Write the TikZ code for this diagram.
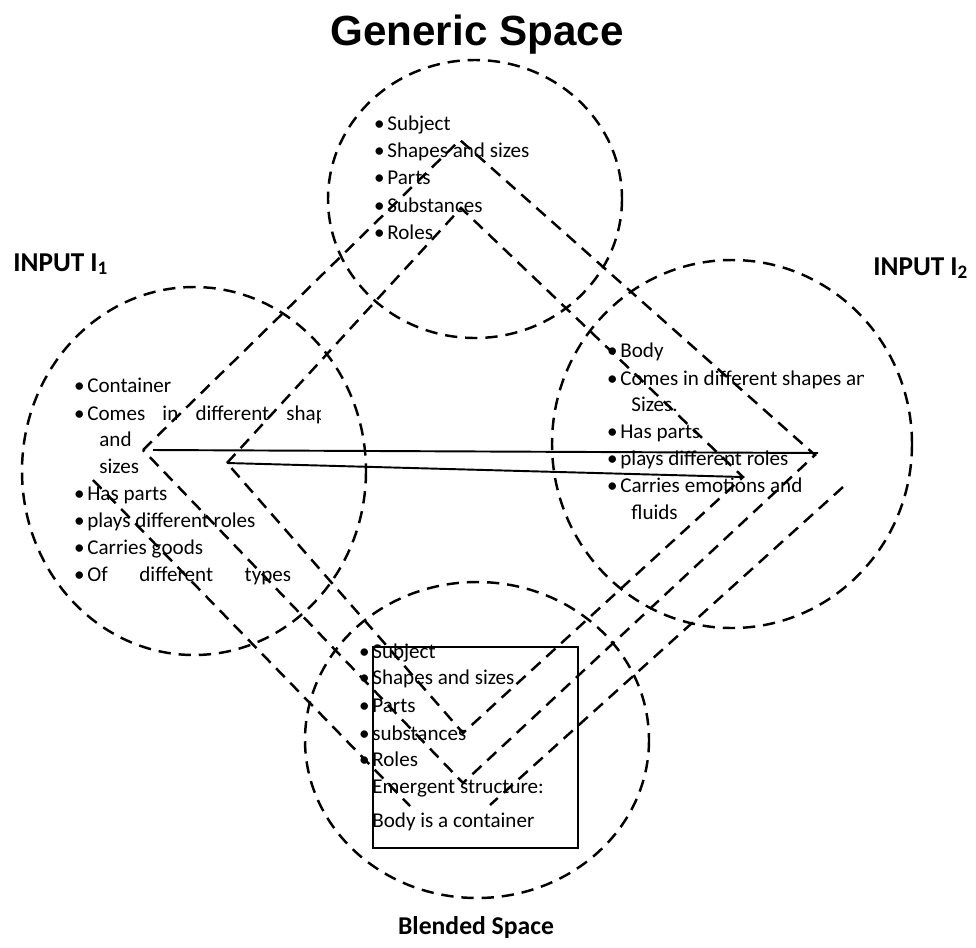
\documentclass[tikz,border=0pt]{standalone}
\usepackage{fontspec}
\setmainfont{Carlito}
\newfontfamily\headfont{Liberation Sans}
\newcommand{\itm}[1]{\llap{\textbullet\hspace{1.5pt}}#1}

\begin{document}
\begin{tikzpicture}[x=0.02cm, y=-0.02cm,
	space/.style={dash pattern=on 7pt off 4.5pt, line width=1.4pt},
	link/.style={dash pattern=on 7pt off 4.5pt, line width=1.4pt},
	map/.style={line width=1.1pt},
	txt/.style={anchor=base west, inner sep=0pt, font=\fontsize{12}{14}\selectfont},
	spacename/.style={anchor=base, inner sep=0pt, font=\fontsize{14.6}{16}\selectfont\bfseries},
	inputname/.style={anchor=base west, inner sep=0pt, font=\fontsize{15.5}{18}\selectfont\bfseries}]

	\useasboundingbox (0,0) rectangle (976,947);

	\draw[space] (475,199) ellipse [x radius=147, y radius=139];
	\draw[space] (194,471) ellipse [x radius=172, y radius=184];
	\draw[space] (732,444) ellipse [x radius=180, y radius=184];
	\draw[space] (477,740) ellipse [x radius=172, y radius=158];
	\draw[line width=0.9pt] (373,647) rectangle (578,848);

	\node[anchor=base, inner sep=0pt, font=\headfont\fontsize{24}{28}\selectfont\bfseries] (generic) at (477,45) {Generic Space};
	\node[inputname] (input1) at (13,271) {INPUT I\textsubscript{1}};
	\node[inputname] (input2) at (873,275) {INPUT I\textsubscript{2}};
	\node[spacename] (blended) at (476,934) {Blended Space};

	\node[txt] (g1) at (387,130) {\itm{Subject}};
	\node[txt] (g2) at (387,157) {\itm{Shapes and sizes}};
	\node[txt] (g3) at (387,184) {\itm{Parts}};
	\node[txt] (g4) at (387,212) {\itm{Substances}};
	\node[txt] (g5) at (387,239) {\itm{Roles}};

	\node[txt] (a1) at (87,392) {\itm{Container}};
	\begin{scope}
		\clip (60,400) rectangle (320,430);
		\node[txt] (a2) at (87,420) {\itm{\makebox[147pt][s]{Comes in different shapes}}};
	\end{scope}
	\node[txt] (a3) at (99,446) {and};
	\node[txt] (a4) at (99,473) {sizes};
	\node[txt] (a5) at (87,500) {\itm{Has parts}};
	\node[txt] (a6) at (87,527) {\itm{plays different roles}};
	\node[txt] (a7) at (87,554) {\itm{Carries goods}};
	\node[txt] (a8) at (87,581) {\itm{\makebox[116pt][s]{Of different types}}};

	\node[txt] (b1) at (620,357) {\itm{Body}};
	\begin{scope}
		\clip (600,365) rectangle (863,395);
		\node[txt] (b2) at (620,385) {\itm{Comes in different shapes and}};
	\end{scope}
	\node[txt] (b3) at (631,411) {Sizes.};
	\node[txt] (b4) at (620,438) {\itm{Has parts}};
	\node[txt] (b5) at (620,465) {\itm{plays different roles}};
	\node[txt] (b6) at (620,492) {\itm{Carries emotions and}};
	\node[txt] (b7) at (631,519) {fluids};

	\node[txt] (c1) at (372,658) {\itm{Subject}};
	\node[txt] (c2) at (372,684) {\itm{Shapes and sizes}};
	\node[txt] (c3) at (372,712) {\itm{Parts}};
	\node[txt] (c4) at (372,740) {\itm{substances}};
	\node[txt] (c5) at (372,766) {\itm{Roles}};
	\node[txt] (c6) at (372,793) {Emergent structure:};
	\node[txt] (c7) at (372,827) {Body is a container};

	\coordinate (oL) at (143,450);
	\coordinate (oT) at (460,140);
	\coordinate (oR) at (815,455);
	\coordinate (oB) at (463,783);
	\coordinate (iL) at (227,463);
	\coordinate (iT) at (461,208);
	\coordinate (iR) at (743,477);
	\coordinate (iB) at (463,733);
	\coordinate (d1) at (93,480);
	\coordinate (d2) at (410,806);
	\coordinate (d3) at (843,487);
	\coordinate (d4) at (490,805);
	\coordinate (s1) at (153,450);
	\coordinate (s2) at (818,453);

	\draw[link] (oL) -- (oT) -- (oR) -- (oB) -- cycle;
	\draw[link] (iL) -- (iT) -- (iR) -- (iB) -- cycle;
	\draw[link] (d1) -- (d2);
	\draw[link] (d3) -- (d4);

	\draw[map] (s1) -- (s2);
	\draw[map] (iL) -- (iR);

\end{tikzpicture}
\end{document}
